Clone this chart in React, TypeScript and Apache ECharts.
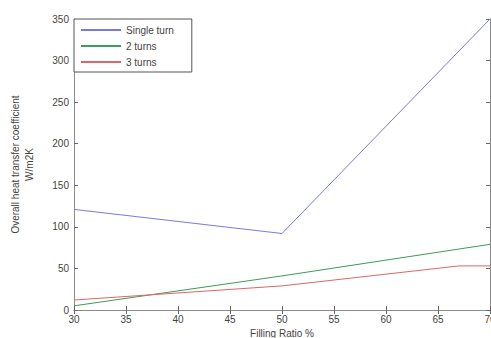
import React, { useEffect, useRef } from "react";
import * as echarts from "echarts";

const seriesNames = ["Single turn", "2 turns", "3 turns"];
const singleTurn: [number, number][] = [[30, 121], [50, 92], [70, 350]];
const twoTurns: [number, number][] = [[30, 5], [50, 41], [70, 79]];
const threeTurns: [number, number][] = [[30, 12], [50, 29], [67, 53], [70, 53]];
const xTicks = { min: 30, max: 70, interval: 5 };
const yTicks = { min: 0, max: 350, interval: 50 };
const colors = ["#7878e6", "#3f9a5c", "#e06666"];

export default function App() {
  const ref = useRef<HTMLDivElement>(null);
  useEffect(() => {
    if (!ref.current) return;
    const chart = echarts.init(ref.current, null, { renderer: "svg" });
    const font = "Liberation Sans, Arial, sans-serif";
    const axisLine = { show: true, lineStyle: { color: "#8a8a8a", width: 1 } };
    const tick = { show: true, inside: true, length: 4, lineStyle: { color: "#666" } };
    const label = { color: "#444", fontSize: 10, fontFamily: font };
    chart.setOption({
      animation: false,
      backgroundColor: "#fff",
      grid: { left: 74, right: 1, top: 19, bottom: 28, show: false, outerBoundsMode: "none", containLabel: false },
      legend: {
        data: seriesNames,
        orient: "vertical",
        left: 74,
        top: 19,
        itemWidth: 40,
        itemHeight: 10,
        itemGap: 6,
        padding: [6, 18, 5, 6],
        borderColor: "#555",
        borderWidth: 1,
        backgroundColor: "#fff",
        itemStyle: { opacity: 0 },
        textStyle: { color: "#444", fontSize: 10, fontFamily: font },
      },
      xAxis: [
        {
          type: "value",
          position: "bottom",
          ...xTicks,
          name: "Filling Ratio %",
          nameLocation: "middle",
          nameGap: 15,
          nameTextStyle: { color: "#444", fontSize: 10, fontFamily: font },
          axisLine,
          axisTick: tick,
          axisLabel: { ...label, margin: 4 },
          splitLine: { show: false },
        },
        {
          type: "value",
          position: "top",
          ...xTicks,
          axisLine,
          axisTick: tick,
          axisLabel: { show: false },
          splitLine: { show: false },
        },
      ],
      yAxis: [
        {
          type: "value",
          position: "left",
          ...yTicks,
          name: "Overall heat transfer coefficient\nW/m2K",
          nameLocation: "middle",
          nameGap: 38,
          nameTextStyle: { color: "#444", fontSize: 10, fontFamily: font, lineHeight: 14 },
          axisLine,
          axisTick: tick,
          axisLabel: { ...label, margin: 5 },
          splitLine: { show: false },
        },
        {
          type: "value",
          position: "right",
          ...yTicks,
          axisLine,
          axisTick: tick,
          axisLabel: { show: false },
          splitLine: { show: false },
        },
      ],
      series: [singleTurn, twoTurns, threeTurns].map((d, i) => ({
        name: seriesNames[i],
        type: "line",
        data: d,
        symbol: "none",
        color: colors[i],
        lineStyle: { width: 1, color: colors[i] },
        z: 2,
      })),
    });
    return () => chart.dispose();
  }, []);
  return <div ref={ref} style={{ width: 491, height: 338, position: "absolute", left: 0, top: 0 }} />;
}
